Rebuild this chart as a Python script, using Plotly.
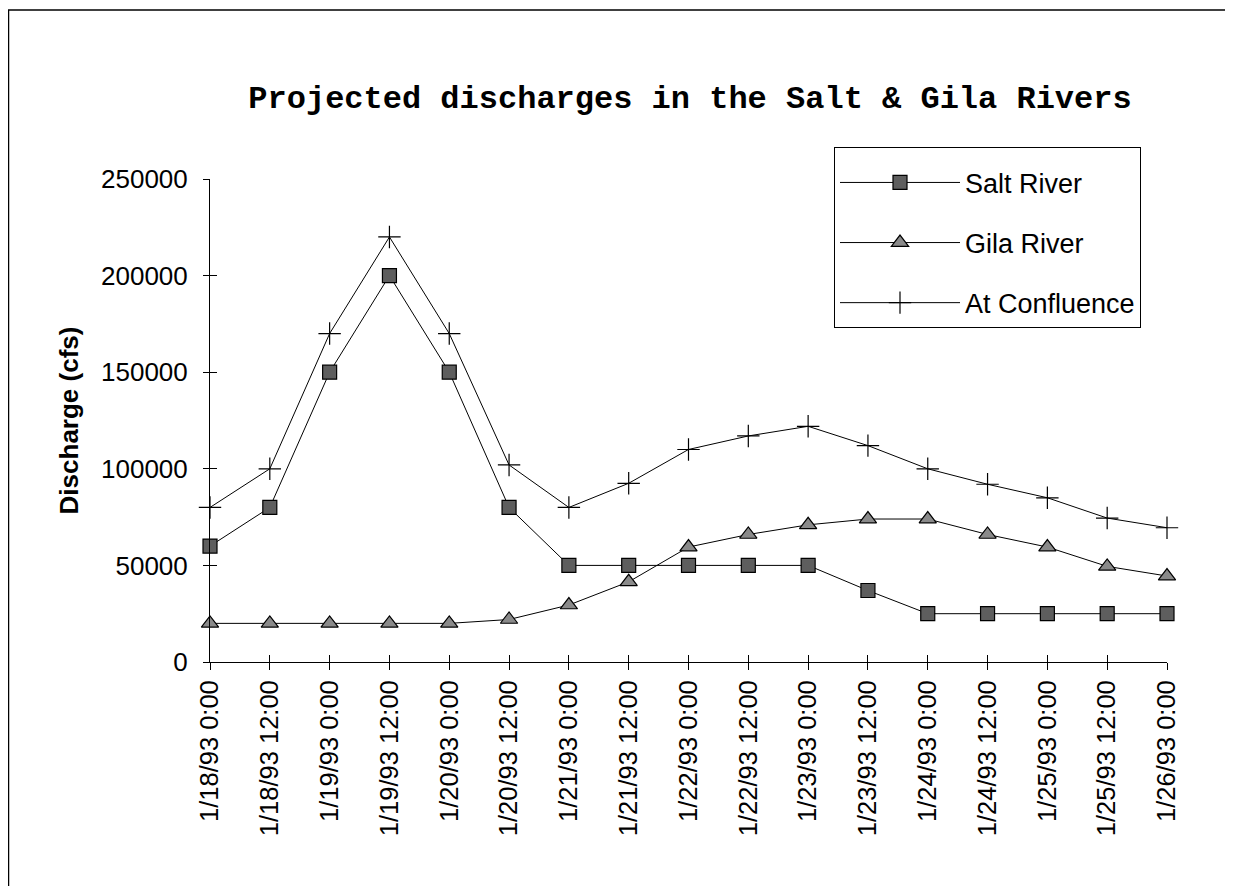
import plotly.graph_objects as go

times = [
    "1/18/93 0:00", "1/18/93 12:00", "1/19/93 0:00", "1/19/93 12:00",
    "1/20/93 0:00", "1/20/93 12:00", "1/21/93 0:00", "1/21/93 12:00",
    "1/22/93 0:00", "1/22/93 12:00", "1/23/93 0:00", "1/23/93 12:00",
    "1/24/93 0:00", "1/24/93 12:00", "1/25/93 0:00", "1/25/93 12:00",
    "1/26/93 0:00",
]
salt_river = [60000, 80000, 150000, 200000, 150000, 80000, 50000, 50000, 50000,
              50000, 50000, 37000, 25000, 25000, 25000, 25000, 25000]
gila_river = [20000, 20000, 20000, 20000, 20000, 22000, 29500, 41500, 59500,
              66000, 71000, 74000, 74000, 66000, 59500, 49500, 44500]
confluence = [80000, 100000, 170000, 220000, 170000, 102000, 80000, 92500, 110000,
              117000, 122000, 112000, 100000, 92000, 85000, 74500, 69500]
y_ticks = [0, 50000, 100000, 150000, 200000, 250000]

# the page has an 8px body margin, so figure pixels = screen pixels - 8
W, H = 1225, 878
L, R, T, B = 202, 1159, 171, 654

fig = go.Figure()

series = [
    ("Salt River", salt_river, dict(symbol="square", size=14, color="#5e5e5e",
                                    line=dict(color="black", width=1.2))),
    ("Gila River", gila_river, dict(symbol="triangle-up", size=15, color="#8a8a8a",
                                    line=dict(color="black", width=1.2))),
    ("At Confluence", confluence, dict(symbol="cross-thin", size=16,
                                       line=dict(color="black", width=1.2))),
]
for name, vals, mk in series:
    fig.add_trace(go.Scatter(
        x=times, y=vals, name=name, mode="lines+markers",
        line=dict(color="black", width=1), marker=mk,
        cliponaxis=False, legendgroup=name,
    ))

arial = "Arial, Liberation Sans, sans-serif"

fig.update_layout(
    width=W, height=H,
    margin=dict(l=L, r=W - R, t=T, b=H - B),
    paper_bgcolor="white", plot_bgcolor="white",
    title=dict(
        text="<b>Projected discharges in the Salt & Gila Rivers</b>",
        font=dict(family="Courier New, Liberation Mono, monospace", size=32, color="black"),
        x=682 / W, xanchor="center", y=1 - 89 / H, yanchor="middle",
    ),
    xaxis=dict(
        type="category", categoryorder="array", categoryarray=times,
        range=[0, 16], showline=True, linecolor="black", linewidth=1,
        ticks="outside", ticklen=7, tickcolor="black", tickangle=-90,
        tickfont=dict(family=arial, size=25.5, color="black"),
        showgrid=False, zeroline=False,
    ),
    yaxis=dict(
        range=[0, 250000], tickvals=y_ticks, tickformat="d",
        showline=True, linecolor="black", linewidth=1,
        ticks="outside", ticklen=6, tickcolor="black", ticklabelstandoff=10,
        tickfont=dict(family=arial, size=26, color="black"),
        showgrid=False, zeroline=False,
        title=dict(text="<b>Discharge (cfs)</b>", standoff=14,
                   font=dict(family=arial, size=26, color="black")),
    ),
    # overlay axes only used to draw the inner half of the crossing ticks
    xaxis2=dict(overlaying="x", range=[0, 16], dtick=1, ticks="inside", ticklen=7,
                tickcolor="black", showticklabels=False, showgrid=False, zeroline=False,
                showline=False),
    yaxis2=dict(overlaying="y", range=[0, 250000], dtick=50000, ticks="inside", ticklen=7,
                tickcolor="black", showticklabels=False, showgrid=False, zeroline=False,
                showline=False),
    legend=dict(
        x=(826 - L) / (R - L), y=(B - 139) / (B - T), xanchor="left", yanchor="top",
        bordercolor="black", borderwidth=1, bgcolor="white",
        font=dict(family=arial, size=27, color="black"),
        title=dict(text=" ", font=dict(size=8)),
        itemwidth=120, tracegroupgap=22,
        entrywidth=320, entrywidthmode="pixels",
    ),
    showlegend=True,
)

# page frame (top and left edges)
fig.add_shape(type="line", xref="paper", yref="paper",
              x0=(0 - L) / (R - L), x1=(W - L) / (R - L),
              y0=(B - 2) / (B - T), y1=(B - 2) / (B - T),
              line=dict(color="black", width=1.5))
fig.add_shape(type="line", xref="paper", yref="paper",
              x0=(0.5 - L) / (R - L), x1=(0.5 - L) / (R - L),
              y0=(B - 2) / (B - T), y1=(B - H) / (B - T),
              line=dict(color="black", width=1.5))

# dummy trace so the overlay axes get drawn
fig.add_trace(go.Scatter(x=[None], y=[None], xaxis="x2", yaxis="y2",
                         showlegend=False, hoverinfo="skip"))

fig.write_html("out.html")
